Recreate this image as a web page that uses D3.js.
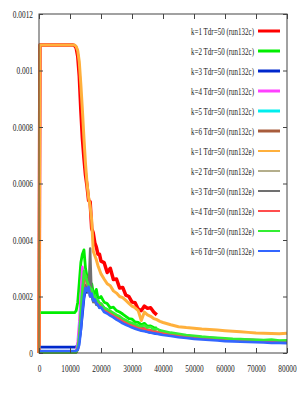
<!DOCTYPE html>
<html lang="en">
<head>
<meta charset="utf-8">
<title>run132c / run132e</title>
<script src="https://cdn.jsdelivr.net/npm/d3@7"></script>
<style>
  body { margin: 0; background: #fff; }
  text { font-family: "Liberation Serif", "DejaVu Serif", serif; fill: #222; }
</style>
</head>
<body>
<script>
// time grid (shared by every series)
var tSteps = [0, 300, 5000, 10000, 11000, 11500,
  12000, 12500, 13000, 13500, 14000, 14500, 15000, 15500, 16000, 16500, 17000, 17500, 18000, 18500, 19000, 19500, 20000,
  21000, 22000, 23000, 24000, 25000, 26000, 27000, 28000, 29000, 30000, 31000, 32000, 33000, 34000, 35000, 36000, 37000, 38000, 39000, 40000,
  42500, 45000, 47500, 50000, 52500, 55000, 57500, 60000, 62500, 65000, 67500, 70000, 72500, 75000, 77500, 80000];

// values in units of 1e-4 ; run132c series stop at 38000
var k1c = [0, 10.9, 10.9, 10.9, 10.9, 10.88,
  10.8, 10.5, 9.8, 8.6, 7.6, 6.9, 6.3, 5.9, 5.4, 5.35, 4.4, 4.25, 3.9, 3.75, 3.5, 3.5, 3.25,
  3.2, 2.85, 3.0, 2.6, 2.62, 2.3, 2.32, 2.05, 2.0, 1.8, 1.78, 1.55, 1.5, 1.66, 1.58, 1.6, 1.45, 1.35];
var k2c = [1.43, 1.43, 1.43, 1.43, 1.43, 1.43,
  1.5, 1.8, 2.5, 3.2, 3.5, 3.65, 3.0, 2.7, 2.45, 2.3, 2.45, 2.15, 2.1, 2.25, 1.95, 1.95, 2.0,
  1.8, 1.75, 1.6, 1.62, 1.5, 1.45, 1.38, 1.3, 1.22, 1.2, 1.1, 1.08, 1.0, 1.05, 0.95, 0.96, 0.9, 0.88];
var k3c = [0.21, 0.21, 0.21, 0.21, 0.21, 0.21,
  0.22, 0.28, 0.45, 0.85, 1.4, 1.95, 2.25, 2.15, 2.45, 2.05, 2.2, 1.9, 2.0, 1.8, 1.85, 1.7, 1.72,
  1.55, 1.5, 1.4, 1.36, 1.25, 1.2, 1.12, 1.05, 1.0, 0.95, 0.9, 0.86, 0.82, 0.8, 0.76, 0.73, 0.71, 0.68];
var k4c = [0.03, 0.03, 0.03, 0.03, 0.03, 0.03,
  0.08, 0.4, 1.1, 2.1, 3.05, 2.7, 2.4, 2.3, 2.25, 2.0, 2.1, 1.9, 1.85, 1.9, 1.75, 1.7, 1.72,
  1.6, 1.5, 1.45, 1.35, 1.3, 1.22, 1.15, 1.08, 1.05, 0.98, 0.95, 0.9, 0.86, 0.85, 0.8, 0.78, 0.75, 0.72];
var k5c = [0.02, 0.02, 0.02, 0.02, 0.02, 0.02,
  0.04, 0.2, 0.7, 1.5, 2.3, 2.6, 2.5, 2.3, 2.2, 2.05, 2.1, 1.85, 1.9, 1.8, 1.75, 1.65, 1.7,
  1.55, 1.48, 1.42, 1.33, 1.28, 1.2, 1.14, 1.08, 1.02, 0.97, 0.93, 0.88, 0.85, 0.84, 0.79, 0.77, 0.74, 0.71];
var k6c = [0.02, 0.02, 0.02, 0.02, 0.02, 0.02,
  0.03, 0.15, 0.55, 1.3, 2.1, 2.55, 2.6, 2.4, 2.35, 2.1, 2.15, 1.95, 1.9, 1.85, 1.8, 1.7, 1.75,
  1.6, 1.52, 1.48, 1.38, 1.32, 1.25, 1.18, 1.12, 1.06, 1.0, 0.96, 0.92, 0.88, 0.87, 0.82, 0.8, 0.77, 0.74];

var k1e = [0, 10.9, 10.9, 10.9, 10.9, 10.9,
  10.85, 10.7, 10.3, 9.5, 8.6, 7.6, 6.7, 6.0, 5.5, 5.2, 4.7, 3.6, 3.45, 3.3, 3.1, 2.95, 2.8,
  2.62, 2.45, 2.38, 2.2, 2.12, 2.0, 1.96, 1.86, 1.76, 1.66, 1.6, 1.5, 1.15, 1.45, 1.35, 1.3, 1.22, 1.18, 1.12, 1.08,
  1.0, 0.93, 0.9, 0.88, 0.85, 0.83, 0.81, 0.79, 0.77, 0.75, 0.73, 0.71, 0.7, 0.69, 0.68, 0.7];
var k2e = [0.05, 0.05, 0.05, 0.05, 0.05, 0.05,
  0.06, 0.2, 0.6, 1.3, 2.2, 2.7, 2.5, 2.3, 2.2, 2.0, 2.05, 1.85, 1.8, 1.75, 1.7, 1.62, 1.6,
  1.5, 1.42, 1.38, 1.3, 1.24, 1.18, 1.12, 1.06, 1.0, 0.96, 0.92, 0.88, 0.85, 0.83, 0.8, 0.78, 0.75, 0.73, 0.72, 0.7,
  0.66, 0.62, 0.59, 0.57, 0.55, 0.53, 0.51, 0.5, 0.48, 0.47, 0.46, 0.45, 0.44, 0.43, 0.42, 0.41];
var k3e = [0.01, 0.01, 0.01, 0.01, 0.01, 0.01,
  0.02, 0.1, 0.4, 1.0, 1.8, 2.3, 2.4, 2.2, 2.15, 3.7, 2.0, 1.8, 1.85, 1.7, 1.72, 1.6, 1.62,
  1.5, 1.44, 1.36, 1.3, 1.25, 1.18, 1.12, 1.07, 1.02, 0.97, 0.93, 0.9, 0.86, 0.84, 0.81, 0.79, 0.76, 0.74, 0.72, 0.7,
  0.67, 0.63, 0.6, 0.58, 0.56, 0.54, 0.52, 0.5, 0.49, 0.48, 0.47, 0.46, 0.45, 0.44, 0.43, 0.42];
var k4e = [0.02, 0.02, 0.02, 0.02, 0.02, 0.02,
  0.03, 0.15, 0.5, 1.2, 2.0, 2.5, 2.75, 2.5, 2.3, 2.2, 2.15, 1.95, 1.9, 1.8, 1.75, 1.68, 1.65,
  1.52, 1.45, 1.4, 1.32, 1.26, 1.2, 1.14, 1.08, 1.03, 0.98, 0.94, 0.9, 0.87, 0.85, 0.82, 0.8, 0.77, 0.75, 0.73, 0.71,
  0.67, 0.63, 0.6, 0.57, 0.55, 0.53, 0.51, 0.49, 0.48, 0.47, 0.46, 0.45, 0.44, 0.43, 0.42, 0.42];
var k5e = [0.02, 0.02, 0.02, 0.02, 0.02, 0.02,
  0.03, 0.15, 0.5, 1.3, 2.2, 2.9, 2.7, 2.55, 2.4, 2.3, 2.25, 2.05, 2.0, 1.9, 1.85, 1.78, 1.75,
  1.6, 1.55, 1.48, 1.42, 1.35, 1.3, 1.22, 1.16, 1.1, 1.06, 1.02, 0.97, 0.95, 0.98, 0.9, 0.92, 0.84, 0.86, 0.8, 0.78,
  0.72, 0.68, 0.64, 0.61, 0.58, 0.56, 0.54, 0.52, 0.5, 0.49, 0.48, 0.47, 0.46, 0.48, 0.44, 0.45];
var k6e = [0.07, 0.07, 0.07, 0.07, 0.07, 0.07,
  0.08, 0.12, 0.3, 0.8, 1.5, 2.0, 2.3, 2.2, 2.35, 2.0, 2.1, 1.85, 1.9, 1.75, 1.7, 1.6, 1.62,
  1.45, 1.4, 1.32, 1.26, 1.18, 1.12, 1.05, 1.0, 0.95, 0.9, 0.86, 0.82, 0.79, 0.77, 0.74, 0.72, 0.7, 0.68, 0.66, 0.64,
  0.6, 0.56, 0.53, 0.5, 0.48, 0.46, 0.44, 0.42, 0.41, 0.4, 0.39, 0.38, 0.37, 0.36, 0.36, 0.35];

var seriesNames = ["k=1 Tdr=50 (run132c)", "k=2 Tdr=50 (run132c)", "k=3 Tdr=50 (run132c)",
  "k=4 Tdr=50 (run132c)", "k=5 Tdr=50 (run132c)", "k=6 Tdr=50 (run132c)",
  "k=1 Tdr=50 (run132e)", "k=2 Tdr=50 (run132e)", "k=3 Tdr=50 (run132e)",
  "k=4 Tdr=50 (run132e)", "k=5 Tdr=50 (run132e)", "k=6 Tdr=50 (run132e)"];
var seriesValues = [k1c, k2c, k3c, k4c, k5c, k6c, k1e, k2e, k3e, k4e, k5e, k6e];
var seriesColors = ["#ff0000", "#00ee00", "#0028cc", "#ff40ff", "#00eeee", "#a85c3c",
  "#ffb03c", "#b4ae8c", "#707070", "#ff4d4d", "#33ee33", "#3366ff"];
// noisy bands look thicker than the legend samples
var bandWidths = [3.5, 2.8, 2.8, 2.6, 2.6, 2.6, 3, 2.4, 2.4, 2.4, 2.6, 2.6];

var xTicks = [0, 10000, 20000, 30000, 40000, 50000, 60000, 70000, 80000];
var yTicks = [0, 0.0002, 0.0004, 0.0006, 0.0008, 0.001, 0.0012];
var yTickLabels = ["0", "0.0002", "0.0004", "0.0006", "0.0008", "0.001", "0.0012"];

var w = 299, h = 393;
var mLeft = 39, mRight = 287, mTop = 14, mBottom = 353;
var squeeze = 0.7;

var svg = d3.select("body").append("svg").attr("width", w).attr("height", h);

var x = d3.scaleLinear().domain([0, 80000]).range([mLeft, mRight]);
var y = d3.scaleLinear().domain([0, 0.0012]).range([mBottom, mTop]);

function narrow(sel) {
  sel.each(function() {
    var n = this.getComputedTextLength();
    d3.select(this).attr("textLength", n * squeeze).attr("lengthAdjust", "spacingAndGlyphs");
  });
}

// curves
var line = d3.line()
  .x(function(d) { return x(d[0]); })
  .y(function(d) { return y(d[1] * 1e-4); });

var plot = svg.append("g");
seriesValues.forEach(function(vals, i) {
  plot.append("path")
    .datum(vals.map(function(v, j) { return [tSteps[j], v]; }))
    .attr("fill", "none")
    .attr("stroke", seriesColors[i])
    .attr("stroke-width", bandWidths[i])
    .attr("stroke-linejoin", "round")
    .attr("d", line);
});

// frame + inward ticks (gnuplot style, mirrored)
var frame = "#444";
svg.append("rect").attr("x", mLeft).attr("y", mTop)
  .attr("width", mRight - mLeft).attr("height", mBottom - mTop)
  .attr("fill", "none").attr("stroke", frame).attr("stroke-width", 1);

svg.append("g").attr("transform", "translate(0," + mBottom + ")")
  .call(d3.axisBottom(x).tickValues(xTicks).tickSizeInner(-5).tickSizeOuter(0).tickPadding(12).tickFormat(d3.format("d")))
  .call(function(g) { g.select(".domain").remove(); });
svg.append("g").attr("transform", "translate(0," + mTop + ")")
  .call(d3.axisTop(x).tickValues(xTicks).tickSizeInner(-5).tickSizeOuter(0).tickFormat(""))
  .call(function(g) { g.select(".domain").remove(); });
svg.append("g").attr("transform", "translate(" + mLeft + ",0)")
  .call(d3.axisLeft(y).tickValues(yTicks).tickSizeInner(-4).tickSizeOuter(0).tickPadding(6)
    .tickFormat(function(d, i) { return yTickLabels[i]; }))
  .call(function(g) { g.select(".domain").remove(); });
svg.append("g").attr("transform", "translate(" + mRight + ",0)")
  .call(d3.axisRight(y).tickValues(yTicks).tickSizeInner(-4).tickSizeOuter(0).tickFormat(""))
  .call(function(g) { g.select(".domain").remove(); });

svg.selectAll(".tick line").attr("stroke", frame);
svg.selectAll(".tick text")
  .attr("font-family", "Liberation Serif, serif")
  .attr("font-size", 10.5)
  .attr("fill", "#222")
  .call(narrow);

// legend
var legend = svg.append("g");
seriesNames.forEach(function(name, i) {
  var ly = 31 + i * 20;
  legend.append("text")
    .attr("x", 254).attr("y", ly + 3.5)
    .attr("text-anchor", "end")
    .attr("font-size", 10)
    .text(name)
    .call(narrow);
  legend.append("line")
    .attr("x1", 258).attr("x2", 280)
    .attr("y1", ly).attr("y2", ly)
    .attr("stroke", seriesColors[i])
    .attr("stroke-width", i < 6 ? 3 : 2);
});
</script>
</body>
</html>
